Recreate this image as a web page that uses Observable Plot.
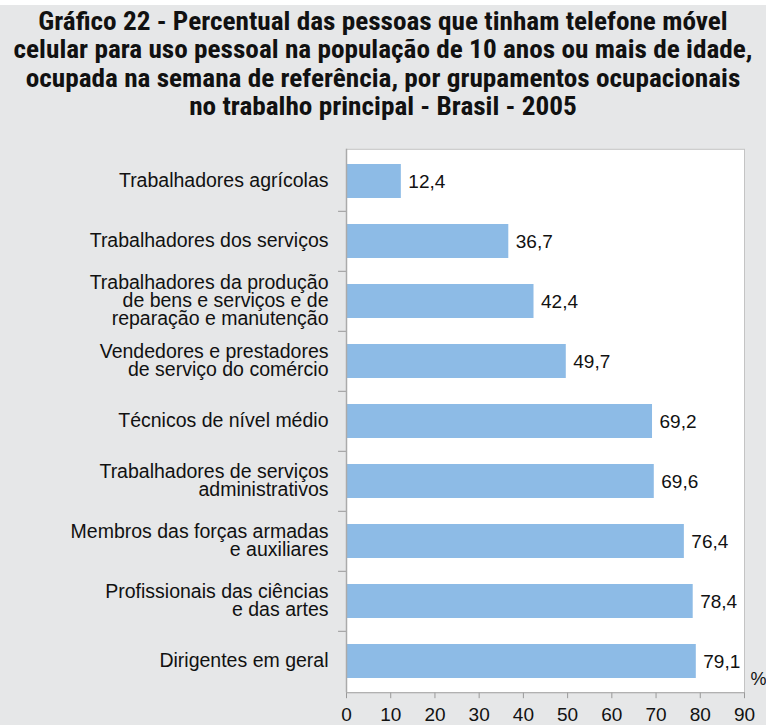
<!DOCTYPE html>
<html><head><meta charset="utf-8">
<script src="https://cdn.jsdelivr.net/npm/d3@7"></script>
<script src="https://cdn.jsdelivr.net/npm/@observablehq/plot@0.6"></script>
<style>
html,body{margin:0;padding:0;background:#e6e7e8;}
body{width:766px;height:725px;overflow:hidden;border-top:5px solid #fff;box-sizing:border-box;}
#title{font-family:"Roboto Condensed","Liberation Sans Narrow",sans-serif;font-weight:bold;font-size:25px;line-height:28.3px;text-align:center;color:#111;height:130px;box-sizing:border-box;padding-top:3px;transform:scaleX(1.09);transform-origin:50% 0;}
#chart svg{display:block;}
</style></head>
<body>
<div id="title">Gráfico 22 - Percentual das pessoas que tinham telefone móvel<br>celular para uso pessoal na população de 10 anos ou mais de idade,<br>ocupada na semana de referência, por grupamentos ocupacionais<br>no trabalho principal - Brasil - 2005</div>
<div id="chart"></div>
<script>
const categories = [
  "Trabalhadores agrícolas",
  "Trabalhadores dos serviços",
  "Trabalhadores da produção\nde bens e serviços e de\nreparação e manutenção",
  "Vendedores e prestadores\nde serviço do comércio",
  "Técnicos de nível médio",
  "Trabalhadores de serviços\nadministrativos",
  "Membros das forças armadas\ne auxiliares",
  "Profissionais das ciências\ne das artes",
  "Dirigentes em geral"
];
const values = [12.4, 36.7, 42.4, 49.7, 69.2, 69.6, 76.4, 78.4, 79.1];
const xTicks = [0, 10, 20, 30, 40, 50, 60, 70, 80, 90];

const data = categories.map((c, i) => ({cat: c, v: values[i]}));
const fmt = v => v.toFixed(1).replace(".", ",");
const font = "'Liberation Sans', Arial, sans-serif";

const chart = Plot.plot({
  width: 766,
  height: 590,
  marginTop: 13.8,
  marginBottom: 32.8,
  marginLeft: 346,
  marginRight: 22,
  style: {background: "transparent", fontFamily: font, fontSize: "19px", color: "#111"},
  x: {domain: [0, 90], ticks: xTicks, tickSize: 6, label: null},
  y: {domain: categories, paddingInner: 0.44, paddingOuter: 0.22, label: null},
  marks: [
    Plot.frame({fill: "white", stroke: "#c4c4c4"}),
    Plot.barX(data, {x: "v", y: "cat", fill: "#8dbbe6"}),
    Plot.text(data, {x: "v", y: "cat", text: d => fmt(d.v), dx: 7, textAnchor: "start", fontSize: 19, fill: "#111"}),
    Plot.ruleY(categories.slice(1), {y: d => d, dy: -30.2, x1: -1.8, x2: 0, stroke: "#999"}),
    Plot.ruleX([0], {stroke: "#aaa", strokeWidth: 1.5}),
    Plot.axisX({ticks: xTicks, tickSize: 6, tickPadding: 9, fontSize: 19, stroke: "#999", fill: "#111", label: null}),
    Plot.frame({anchor: "bottom", stroke: "#aaa"}),
    Plot.axisY({tickSize: 0, tickPadding: 18, fontSize: 19.5, lineHeight: 0.92, fill: "#111", label: null}),
    Plot.text(["%"], {frameAnchor: "bottom-right", dx: 6, dy: -8, fontSize: 18, fill: "#111", textAnchor: "start"})
  ]
});
document.getElementById("chart").appendChild(chart);
</script>
</body></html>
